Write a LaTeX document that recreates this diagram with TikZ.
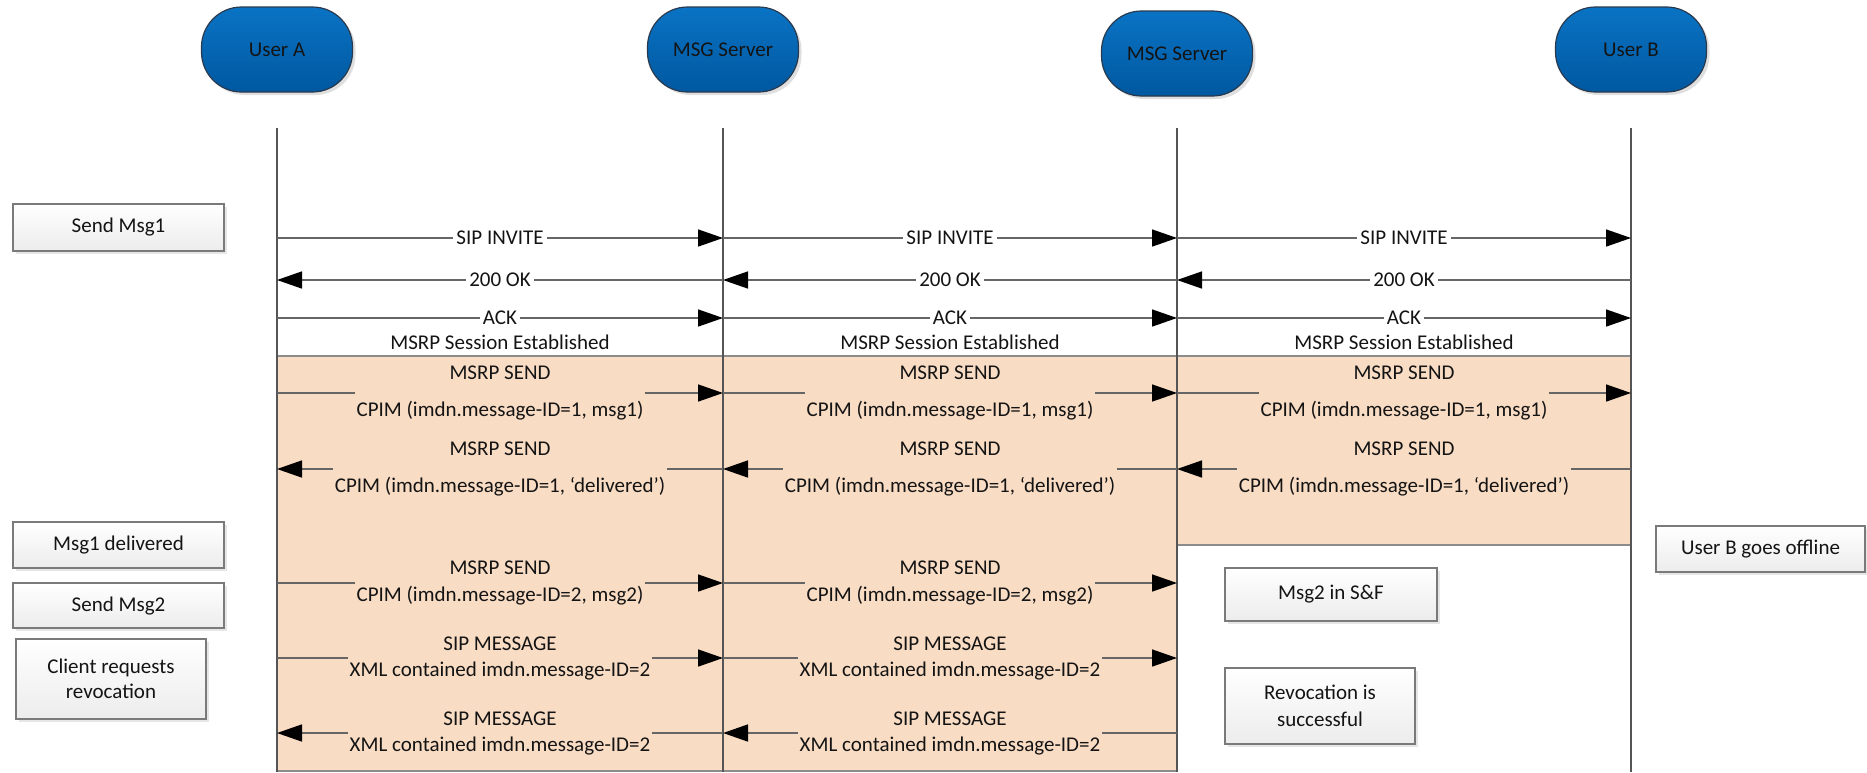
\documentclass[tikz,border=0pt]{standalone}
\usepackage{fontspec}
\setmainfont{Carlito}
\usetikzlibrary{arrows.meta,shadows}
\definecolor{peach}{HTML}{F9DCC4}
\definecolor{lline}{HTML}{666666}
\definecolor{lifec}{HTML}{555555}
\definecolor{blueT}{HTML}{0A73C4}
\definecolor{blueB}{HTML}{0058A0}
\definecolor{blueedge}{HTML}{2A3A4E}
\definecolor{boxedge}{HTML}{7A7A7A}
\definecolor{boxbot}{HTML}{ECECEC}
\definecolor{regedge}{HTML}{8C8C8C}
\definecolor{txt}{HTML}{141414}
\newcommand{\fnt}{\fontsize{10.5}{12}\selectfont}
\begin{document}
\begin{tikzpicture}[x=0.5pt,y=-0.5pt,
  actor/.style={rounded corners=20pt, minimum width=75.5pt, minimum height=42.5pt,
    top color=blueT, bottom color=blueB, draw=blueedge, line width=0.6pt,
    drop shadow={shadow xshift=1.5pt, shadow yshift=-1.5pt, opacity=0.25},
    text=txt, font=\fnt, inner sep=0pt},
  note/.style={draw=boxedge, line width=0.8pt, top color=white, bottom color=boxbot,
    drop shadow={shadow xshift=1.5pt, shadow yshift=-1.5pt, opacity=0.2},
    text=txt, font=\fnt, align=center, inner sep=0pt},
  life/.style={draw=lifec, line width=0.65pt},
  msg/.style={draw=lline, line width=0.75pt, -{Triangle[length=12.5pt,width=8.5pt,color=black]}},
  lab/.style={fill=white, inner xsep=1.5pt, inner ysep=0.5pt, font=\fnt, text=txt},
  plab/.style={fill=peach, inner xsep=1pt, inner ysep=0.5pt, font=\fnt, text=txt, align=center},
  plain/.style={font=\fnt, text=txt, inner sep=0pt}
]
\useasboundingbox (0,0) rectangle (1867,772);

% actors
\node[actor] (uA) at (277,49.5) {User A};
\node[actor] (s1) at (723,49.5) {MSG Server};
\node[actor] (s2) at (1177,53.5) {MSG Server};
\node[actor] (uB) at (1631,49.5) {User B};

% row coordinates
\coordinate (lt) at (0,128);
\coordinate (lb) at (0,772);
\coordinate (r1) at (0,238);
\coordinate (r2) at (0,280);
\coordinate (r3) at (0,318);
\coordinate (r4) at (0,393);
\coordinate (r5) at (0,469);
\coordinate (r6) at (0,583);
\coordinate (r7) at (0,658);
\coordinate (r8) at (0,733);

% shaded region
\filldraw[fill=peach, draw=regedge, line width=0.6pt]
  (277,356) -- (1631,356) -- (1631,545) -- (1177,545) -- (1177,771) -- (277,771) -- cycle;

% lifelines
\draw[life] (uA |- lt) -- (uA |- lb);
\draw[life] (s1 |- lt) -- (s1 |- lb);
\draw[life] (s2 |- lt) -- (s2 |- lb);
\draw[life] (uB |- lt) -- (uB |- lb);

% side notes
\node[note, minimum width=105.5pt, minimum height=23.5pt] (n1) at (118.5,227.5) {Send Msg1};
\node[note, minimum width=105.5pt, minimum height=23pt] (n2) at (118.5,545) {Msg1 delivered};
\node[note, minimum width=105.5pt, minimum height=22.5pt] (n3) at (118.5,605.5) {Send Msg2};
\node[note, minimum width=95pt, minimum height=40pt, font=\fontsize{10.5}{12.5}\selectfont] (n4) at (111,679) {Client requests\\revocation};
\node[note, minimum width=104.5pt, minimum height=23pt] (n5) at (1760.5,549) {User B goes offline};
\node[note, minimum width=106pt, minimum height=26.5pt] (n6) at (1331,594.5) {Msg2 in S\&F};
\node[note, minimum width=95pt, minimum height=38pt, font=\fontsize{10.5}{13.5}\selectfont] (n7) at (1320,706) {Revocation is\\successful};

% SIP INVITE
\draw[msg] (uA |- r1) -- node[lab] (l11) {SIP INVITE} (s1 |- r1);
\draw[msg] (s1 |- r1) -- node[lab] (l12) {SIP INVITE} (s2 |- r1);
\draw[msg] (s2 |- r1) -- node[lab] (l13) {SIP INVITE} (uB |- r1);
% 200 OK
\draw[msg] (s1 |- r2) -- node[lab] (l21) {200 OK} (uA |- r2);
\draw[msg] (s2 |- r2) -- node[lab] (l22) {200 OK} (s1 |- r2);
\draw[msg] (uB |- r2) -- node[lab] (l23) {200 OK} (s2 |- r2);
% ACK
\draw[msg] (uA |- r3) -- node[lab] (l31) {ACK} (s1 |- r3);
\draw[msg] (s1 |- r3) -- node[lab] (l32) {ACK} (s2 |- r3);
\draw[msg] (s2 |- r3) -- node[lab] (l33) {ACK} (uB |- r3);
\node[plain] (e1) at (500,342) {MSRP Session Established};
\node[plain] (e2) at (950,342) {MSRP Session Established};
\node[plain] (e3) at (1404,342) {MSRP Session Established};

% MSRP SEND msg1
\draw[msg] (uA |- r4) -- node[plab] (l41) {MSRP SEND\\[6.5pt]CPIM (imdn.message-ID=1, msg1)} (s1 |- r4);
\draw[msg] (s1 |- r4) -- node[plab] (l42) {MSRP SEND\\[6.5pt]CPIM (imdn.message-ID=1, msg1)} (s2 |- r4);
\draw[msg] (s2 |- r4) -- node[plab] (l43) {MSRP SEND\\[6.5pt]CPIM (imdn.message-ID=1, msg1)} (uB |- r4);
% delivered
\draw[msg] (s1 |- r5) -- node[plab] (l51) {MSRP SEND\\[6.5pt]CPIM (imdn.message-ID=1, ‘delivered’)} (uA |- r5);
\draw[msg] (s2 |- r5) -- node[plab] (l52) {MSRP SEND\\[6.5pt]CPIM (imdn.message-ID=1, ‘delivered’)} (s1 |- r5);
\draw[msg] (uB |- r5) -- node[plab] (l53) {MSRP SEND\\[6.5pt]CPIM (imdn.message-ID=1, ‘delivered’)} (s2 |- r5);
% msg2
\draw[msg] (uA |- r6) -- node[plab] (l61) {MSRP SEND\\[1.3pt]CPIM (imdn.message-ID=2, msg2)} (s1 |- r6);
\draw[msg] (s1 |- r6) -- node[plab] (l62) {MSRP SEND\\[1.3pt]CPIM (imdn.message-ID=2, msg2)} (s2 |- r6);
% SIP MESSAGE
\draw[msg] (uA |- r7) -- node[plab] (l71) {SIP MESSAGE\\[1pt]XML contained imdn.message-ID=2} (s1 |- r7);
\draw[msg] (s1 |- r7) -- node[plab] (l72) {SIP MESSAGE\\[1pt]XML contained imdn.message-ID=2} (s2 |- r7);
\draw[msg] (s1 |- r8) -- node[plab] (l81) {SIP MESSAGE\\[1pt]XML contained imdn.message-ID=2} (uA |- r8);
\draw[msg] (s2 |- r8) -- node[plab] (l82) {SIP MESSAGE\\[1pt]XML contained imdn.message-ID=2} (s1 |- r8);
\end{tikzpicture}
\end{document}
